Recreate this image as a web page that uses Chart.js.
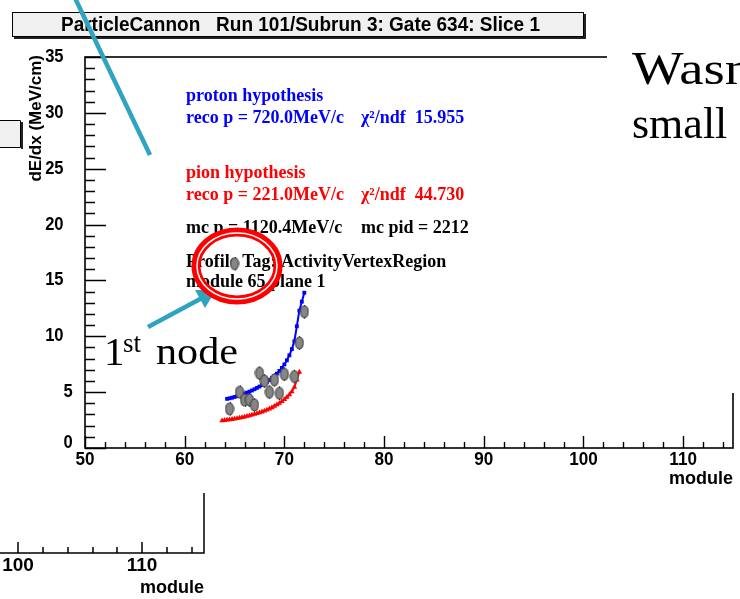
<!DOCTYPE html>
<html>
<head>
<meta charset="utf-8">
<title>dE/dx profile</title>
<script src="https://cdn.jsdelivr.net/npm/chart.js@4/dist/chart.umd.min.js"></script>
<style>
  html, body { margin: 0; padding: 0; background: #fff; overflow: hidden; }
  #wrap { position: relative; width: 740px; height: 599px; }
  canvas { display: block; }
</style>
</head>
<body>
<div id="wrap"><canvas id="c" width="740" height="599"></canvas></div>
<script>
// ---- axis ticks ----
const moduleTicks = [50, 60, 70, 80, 90, 100, 110];
const dedxTicks = [0, 5, 10, 15, 20, 25, 30, 35];

// ---- proton hypothesis fit (blue) ----
const protonModule = [64.25, 64.5, 64.75, 65.0, 65.25, 65.5, 65.75, 66.0, 66.25, 66.5, 66.75, 67.0,
  67.25, 67.5, 67.75, 68.0, 68.25, 68.5, 68.75, 69.0, 69.25, 69.5, 69.75, 70.0,
  70.25, 70.5, 70.75, 71.0, 71.25, 71.5, 71.75, 72.0];
const protonDedx = [4.40, 4.45, 4.50, 4.57, 4.64, 4.72, 4.80, 4.88, 4.96, 5.05, 5.15, 5.26,
  5.38, 5.50, 5.63, 5.77, 5.92, 6.08, 6.26, 6.45, 6.66, 6.90, 7.17, 7.48,
  7.85, 8.30, 8.85, 9.55, 10.9, 12.3, 13.1, 13.9];

// ---- pion hypothesis fit (red) ----
const pionModule = [63.75, 64.0, 64.25, 64.5, 64.75, 65.0, 65.25, 65.5, 65.75, 66.0, 66.25, 66.5,
  66.75, 67.0, 67.25, 67.5, 67.75, 68.0, 68.25, 68.5, 68.75, 69.0, 69.25, 69.5,
  69.75, 70.0, 70.25, 70.5, 70.75, 71.0, 71.25, 71.5];
const pionDedx = [2.45, 2.48, 2.51, 2.54, 2.57, 2.61, 2.65, 2.69, 2.74, 2.79, 2.84, 2.90,
  2.96, 3.02, 3.09, 3.16, 3.24, 3.32, 3.41, 3.51, 3.62, 3.74, 3.87, 4.01,
  4.17, 4.35, 4.55, 4.78, 5.05, 5.45, 6.10, 6.80];

// ---- measured dE/dx per node (gray) ----
const hitModule = [64.5, 65.0, 65.5, 66.0, 66.5, 67.0, 67.5, 68.0, 68.5, 69.0, 69.5, 70.0, 71.0, 71.5, 72.0];
const hitDedx   = [3.5, 16.5, 5.0, 4.3, 4.3, 3.85, 6.7, 6.0, 5.0, 6.1, 4.9, 6.6, 6.4, 9.4, 12.2];
const hitErr    = [0.6, 0.6, 0.6, 0.6, 0.6, 0.6, 0.6, 0.6, 0.6, 0.6, 0.6, 0.6, 0.6, 0.6, 0.6];

// ---- text ----
const histTitle = 'ParticleCannon   Run 101/Subrun 3: Gate 634: Slice 1';
const xTitle = 'module';
const yTitle = 'dE/dx (MeV/cm)';

const SANS = '"Liberation Sans", Arial, Helvetica, sans-serif';
const SERIF = '"Liberation Serif", "Times New Roman", Times, serif';
const TEAL = '#2fa3bf';

// gray rounded marker for the measured nodes
function makeHitMarker() {
  const c = document.createElement('canvas');
  c.width = 10; c.height = 14;
  const g = c.getContext('2d');
  g.beginPath();
  g.ellipse(5, 7, 4, 6, 0, 0, Math.PI * 2);
  g.fillStyle = '#858585';
  g.fill();
  g.lineWidth = 1.2;
  g.strokeStyle = '#4a4a4a';
  g.stroke();
  return c;
}

// draw text squeezed or stretched to a given width
function fitText(ctx, text, x, y, width) {
  const w = ctx.measureText(text).width;
  ctx.save();
  ctx.translate(x, y);
  ctx.scale(width / w, 1);
  ctx.fillText(text, 0, 0);
  ctx.restore();
}

// ROOT-style frame: inward ticks, labels, title box and fit annotations
const rootFrame = {
  id: 'rootFrame',
  beforeDatasetsDraw(chart) {
    const { ctx, chartArea: a } = chart;
    const xs = chart.scales.x, ys = chart.scales.y;
    ctx.save();

    // title box
    ctx.fillStyle = '#222';
    ctx.fillRect(14, 14, 572, 25);
    ctx.fillStyle = '#f0f0f0';
    ctx.fillRect(12, 12, 572, 25);
    ctx.strokeStyle = '#000';
    ctx.lineWidth = 1;
    ctx.strokeRect(12.5, 12.5, 571, 24);
    ctx.fillStyle = '#000';
    ctx.font = 'bold 20px ' + SANS;
    ctx.textBaseline = 'middle';
    ctx.textAlign = 'left';
    fitText(ctx, histTitle, 61, 25.5, 479);

    // frame
    ctx.strokeStyle = '#000';
    ctx.lineWidth = 1.6;
    ctx.strokeRect(a.left, a.top, a.right - a.left, a.bottom - a.top);

    // y ticks: major every 5, minor every 1
    ctx.lineWidth = 1.4;
    ctx.beginPath();
    for (let v = ys.min; v <= ys.max + 1e-9; v += 1) {
      const py = Math.round(ys.getPixelForValue(v)) + 0.5;
      const len = (v % 5 === 0) ? 21 : 10;
      ctx.moveTo(a.left, py);
      ctx.lineTo(a.left + len, py);
    }
    // x ticks: major every 10, minor every 2
    for (let v = xs.min; v <= xs.max + 1e-9; v += 2) {
      const px = Math.round(xs.getPixelForValue(v)) + 0.5;
      const len = (v % 10 === 0) ? 12 : 6;
      ctx.moveTo(px, a.bottom);
      ctx.lineTo(px, a.bottom - len);
    }
    ctx.stroke();

    // tick labels
    ctx.fillStyle = '#000';
    ctx.font = 'bold 18px ' + SANS;
    ctx.textAlign = 'right';
    ctx.textBaseline = 'middle';
    dedxTicks.forEach(v => {
      const py = ys.getPixelForValue(v) + (v === 0 ? -5 : 0);
      const t = String(v);
      const w = ctx.measureText(t).width * 0.92;
      fitText(ctx, t, a.left - 3 - w, py, w);
    });
    ctx.font = 'bold 19px ' + SANS;
    ctx.textAlign = 'left';
    ctx.textBaseline = 'top';
    moduleTicks.forEach(v => {
      const t = String(v);
      const w = ctx.measureText(t).width * 0.9;
      fitText(ctx, t, xs.getPixelForValue(v) - w / 2, a.bottom + 2, w);
    });

    // axis titles
    ctx.font = 'bold 18px ' + SANS;
    ctx.textAlign = 'right';
    ctx.textBaseline = 'alphabetic';
    ctx.fillText(xTitle, a.right, a.bottom + 36);
    ctx.save();
    ctx.translate(41, a.top - 2);
    ctx.rotate(-Math.PI / 2);
    ctx.font = 'bold 17px ' + SANS;
    ctx.textAlign = 'right';
    ctx.fillText(yTitle, 0, 0);
    ctx.restore();

    // fit annotations
    ctx.textAlign = 'left';
    ctx.textBaseline = 'middle';
    ctx.font = 'bold 18px ' + SERIF;
    const lines = [
      ['proton hypothesis', 186, 96, '#0000ff'],
      ['reco p = 720.0MeV/c', 186, 118, '#0000ff'],
      ['\u03c7\u00b2/ndf  15.955', 361, 118, '#0000ff'],
      ['pion hypothesis', 186, 173, '#ff0000'],
      ['reco p = 221.0MeV/c', 186, 195, '#ff0000'],
      ['\u03c7\u00b2/ndf  44.730', 361, 195, '#ff0000'],
      ['mc p = 1120.4MeV/c', 186, 228, '#000'],
      ['mc pid = 2212', 361, 228, '#000'],
      ['Profile Tag: ActivityVertexRegion', 186, 262, '#000'],
      ['module 65 plane 1', 186, 282, '#000']
    ];
    lines.forEach(([t, x, y, c]) => { ctx.fillStyle = c; ctx.fillText(t, x, y); });

    // error bars on the measured nodes
    ctx.strokeStyle = '#000';
    ctx.lineWidth = 1.2;
    ctx.beginPath();
    hitModule.forEach((m, i) => {
      const px = Math.round(xs.getPixelForValue(m)) + 0.5;
      ctx.moveTo(px, ys.getPixelForValue(hitDedx[i] - hitErr[i]));
      ctx.lineTo(px, ys.getPixelForValue(hitDedx[i] + hitErr[i]));
    });
    ctx.stroke();
    ctx.restore();
  },

  afterDraw(chart) {
    const { ctx } = chart;
    ctx.save();

    // neighbouring plot pieces on the slide
    ctx.fillStyle = '#f0f0f0';
    ctx.fillRect(0, 120, 20, 27);
    ctx.strokeStyle = '#000';
    ctx.lineWidth = 1;
    ctx.beginPath();
    ctx.moveTo(0, 120.5); ctx.lineTo(20.5, 120.5); ctx.lineTo(20.5, 147.5); ctx.lineTo(0, 147.5);
    ctx.stroke();
    ctx.fillStyle = '#222';
    ctx.fillRect(21, 122, 2, 27);

    ctx.lineWidth = 1.5;
    ctx.beginPath();
    ctx.moveTo(0, 553); ctx.lineTo(204, 553); ctx.lineTo(204, 493);
    [18, 142].forEach(px => { ctx.moveTo(px, 553); ctx.lineTo(px, 542); });
    [43, 68, 93, 117, 167, 192].forEach(px => { ctx.moveTo(px, 553); ctx.lineTo(px, 547); });
    ctx.stroke();
    ctx.fillStyle = '#000';
    ctx.font = 'bold 19px ' + SANS;
    ctx.textAlign = 'center';
    ctx.textBaseline = 'top';
    ctx.fillText('100', 18, 556);
    ctx.fillText('110', 142, 556);
    ctx.font = 'bold 18px ' + SANS;
    ctx.textAlign = 'right';
    ctx.textBaseline = 'alphabetic';
    ctx.fillText(xTitle, 204, 593);

    // slide text box on the right
    ctx.fillStyle = '#fff';
    ctx.fillRect(607, 40, 133, 353);
    ctx.fillStyle = '#000';
    ctx.font = '46px ' + SERIF;
    ctx.textAlign = 'left';
    fitText(ctx, 'Wasn', 632, 84, 120);
    ctx.font = '44px ' + SERIF;
    ctx.fillText('small', 632, 138);

    // long pointer line
    ctx.strokeStyle = TEAL;
    ctx.lineWidth = 4.5;
    ctx.beginPath();
    ctx.moveTo(75, -2);
    ctx.lineTo(150, 155);
    ctx.stroke();

    // arrow to the first node
    ctx.beginPath();
    ctx.moveTo(148, 327);
    ctx.lineTo(202, 298);
    ctx.stroke();
    ctx.fillStyle = TEAL;
    ctx.beginPath();
    ctx.moveTo(216, 290);
    ctx.lineTo(205, 308);
    ctx.lineTo(195, 290);
    ctx.closePath();
    ctx.fill();

    // circle around the first node
    ctx.strokeStyle = '#ff0000';
    ctx.lineWidth = 9;
    ctx.beginPath();
    ctx.ellipse(237, 266, 41, 34, 0, 0, Math.PI * 2);
    ctx.stroke();
    ctx.strokeStyle = '#fff';
    ctx.lineWidth = 1.5;
    ctx.beginPath();
    ctx.ellipse(237, 266, 40, 33, 0, 0, Math.PI * 2);
    ctx.stroke();

    // "1st node" label
    ctx.fillStyle = '#000';
    ctx.textBaseline = 'alphabetic';
    ctx.textAlign = 'left';
    ctx.font = '41px ' + SERIF;
    ctx.fillText('1', 104, 365);
    ctx.font = '27px ' + SERIF;
    ctx.fillText('st', 123, 352);
    ctx.font = '37px ' + SERIF;
    fitText(ctx, 'node', 156, 364, 82);

    ctx.restore();
  }
};

const hitMarker = makeHitMarker();

new Chart(document.getElementById('c'), {
  type: 'scatter',
  data: {
    datasets: [
      {
        label: 'data',
        data: hitModule.map((m, i) => ({ x: m, y: hitDedx[i] })),
        pointStyle: hitMarker,
        pointRadius: 6,
        showLine: false
      },
      {
        label: 'proton hypothesis',
        data: protonModule.map((m, i) => ({ x: m, y: protonDedx[i] })),
        showLine: true,
        borderColor: '#0000ff',
        backgroundColor: '#0000ff',
        borderWidth: 2,
        pointStyle: 'rect',
        pointRadius: 2.7,
        pointBorderWidth: 0
      },
      {
        label: 'pion hypothesis',
        data: pionModule.map((m, i) => ({ x: m, y: pionDedx[i] })),
        showLine: true,
        borderColor: '#ff0000',
        backgroundColor: '#ff0000',
        borderWidth: 2,
        pointStyle: 'triangle',
        pointRadius: 3.2,
        pointBorderWidth: 0
      }
    ]
  },
  options: {
    responsive: false,
    animation: false,
    devicePixelRatio: 1,
    layout: { padding: { left: 85, top: 57, right: 2, bottom: 151 } },
    plugins: { legend: { display: false }, tooltip: { enabled: false }, title: { display: false } },
    scales: {
      x: { type: 'linear', min: 50, max: 115, display: false },
      y: { type: 'linear', min: 0, max: 35, display: false }
    }
  },
  plugins: [rootFrame]
});
</script>
</body>
</html>
